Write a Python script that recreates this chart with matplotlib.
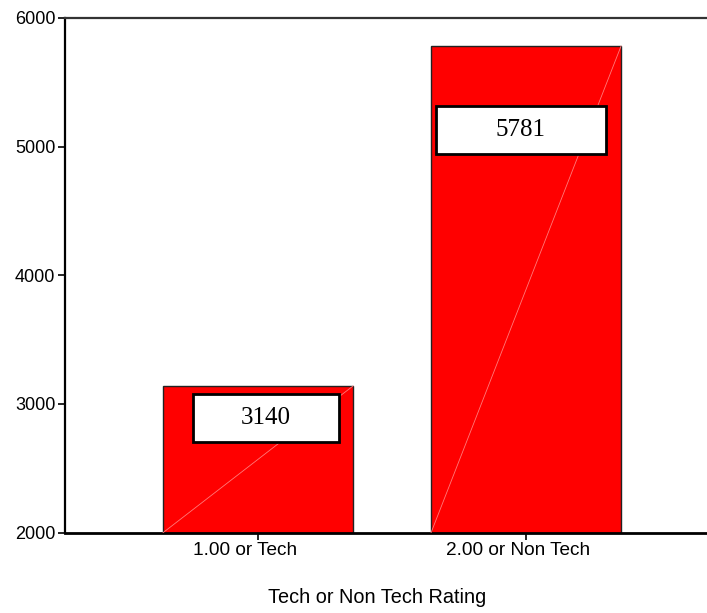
import matplotlib.pyplot as plt
import matplotlib.transforms as mtransforms
from matplotlib.patches import Rectangle

plt.rcParams['font.family'] = ['Liberation Sans', 'DejaVu Sans']

categories = ['1.00 or Tech', '2.00 or Non Tech']
counts = [3140, 5781]
y_ticks = [2000, 3000, 4000, 5000, 6000]
xlabel = 'Tech or Non Tech Rating'

# label box geometry (offsets relative to bar centre, in data units)
box_centre_y = [2890, 5130]
box_left = [-0.244, -0.337]
box_right = [0.303, 0.299]
box_h = 370

fig = plt.figure(figsize=(7.07, 6.13), dpi=100)
ax = fig.add_axes([0.092, 0.131, 0.908, 0.840])

x = list(range(len(categories)))
width = 0.709
ax.bar(x, counts, width=width, bottom=0, color='#ff0000',
       edgecolor='#222222', linewidth=1.0, zorder=2)

for xi, c in zip(x, counts):
    # faint diagonal across each bar
    ax.plot([xi - width / 2, xi + width / 2], [2000, c], color='#ff7a7a',
            lw=0.6, zorder=3)

for xi, c, cy, l, r in zip(x, counts, box_centre_y, box_left, box_right):
    ax.add_patch(Rectangle((xi + l, cy - box_h / 2), r - l, box_h,
                           facecolor='white', edgecolor='black',
                           linewidth=2.0, zorder=4))
    ax.text(xi + (l + r) / 2, cy, str(c), ha='center', va='center',
            fontsize=18, family='Liberation Serif', zorder=5)

ax.set_xlim(-0.72, 1.675)
ax.set_ylim(2000, 6000)
ax.set_yticks(y_ticks)
ax.set_xticks(x)
ax.set_xticklabels(categories)
ax.tick_params(axis='both', length=5, width=1.2, direction='out', pad=2)
ax.tick_params(axis='y', labelsize=13)
ax.tick_params(axis='x', labelsize=13.7)

# tick labels sit a little left of their ticks
for lab, dx in zip(ax.get_xticklabels(), [-13, -8]):
    off = mtransforms.ScaledTranslation(dx / 100, 0, fig.dpi_scale_trans)
    lab.set_transform(lab.get_transform() + off)

ax.spines['right'].set_visible(False)
ax.spines['left'].set_linewidth(1.6)
ax.spines['bottom'].set_linewidth(2.0)
ax.spines['top'].set_linewidth(1.6)
ax.spines['top'].set_color('#333333')
ax.set_xlabel(xlabel, fontsize=14.3)
ax.xaxis.set_label_coords(0.486, -0.108)

fig.savefig('out.png', dpi=100)
